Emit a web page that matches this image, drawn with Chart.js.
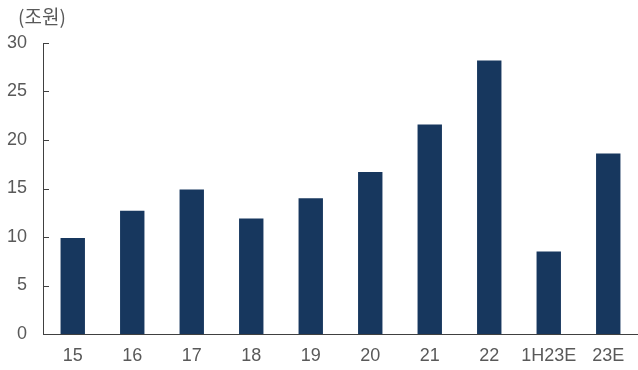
<!DOCTYPE html>
<html>
<head>
<meta charset="utf-8">
<script src="https://cdn.jsdelivr.net/npm/chart.js@4"></script>
<style>
    body { margin: 0; background: #fff; }
    #wrap { width: 638px; height: 370px; }
</style>
</head>
<body>
<div id="wrap"><canvas id="barChart" width="638" height="370"></canvas></div>
<script>
const years = ['15', '16', '17', '18', '19', '20', '21', '22', '1H23E', '23E'];
const amounts = [9.9, 12.7, 14.9, 11.9, 14.0, 16.7, 21.6, 28.2, 8.5, 18.6];
const unitLabel = '(조원)';

const barColor = '#17375e';
const textColor = '#595959';
const axisColor = '#404040';

// short tick marks pointing into the plot, plus the unit text above the axis
const axisExtras = {
    id: 'axisExtras',
    afterDraw(chart) {
        const ctx = chart.ctx;
        const y = chart.scales.y;
        ctx.save();
        ctx.strokeStyle = axisColor;
        ctx.lineWidth = 1;
        y.ticks.forEach(t => {
            const py = Math.round(y.getPixelForValue(t.value)) + 0.5;
            ctx.beginPath();
            ctx.moveTo(y.right, py);
            ctx.lineTo(y.right + 6, py);
            ctx.stroke();
        });
        ctx.fillStyle = textColor;
        ctx.font = '19px "Noto Sans CJK KR", "Liberation Sans", sans-serif';
        ctx.textBaseline = 'middle';
        ctx.textAlign = 'left';
        ctx.fillText(unitLabel, chart.chartArea.left - 25, chart.chartArea.top - 26);
        ctx.restore();
    }
};

const chart = new Chart(document.getElementById('barChart'), {
    type: 'bar',
    data: {
        labels: years,
        datasets: [{
            data: amounts,
            backgroundColor: barColor,
            categoryPercentage: 1,
            barPercentage: 0.41
        }]
    },
    options: {
        responsive: false,
        animation: false,
        layout: { padding: { top: 43, right: 0, bottom: 0, left: 0 } },
        plugins: {
            legend: { display: false },
            tooltip: { enabled: false }
        },
        scales: {
            x: {
                afterFit(scale) { scale.height = 36; },
                grid: { display: false, drawTicks: false },
                border: { display: true, color: axisColor, width: 1 },
                ticks: {
                    color: textColor,
                    padding: 11,
                    maxRotation: 0,
                    minRotation: 0,
                    autoSkip: false,
                    font: { family: '"Liberation Sans", Arial, sans-serif', size: 18 }
                }
            },
            y: {
                min: 0,
                max: 30,
                afterFit(scale) { scale.width = 43; },
                grid: { display: false, drawTicks: false },
                border: { display: true, color: axisColor, width: 1 },
                ticks: {
                    stepSize: 5,
                    color: textColor,
                    padding: 16,
                    font: { family: '"Liberation Sans", Arial, sans-serif', size: 18 }
                }
            }
        }
    },
    plugins: [axisExtras]
});
</script>
</body>
</html>
